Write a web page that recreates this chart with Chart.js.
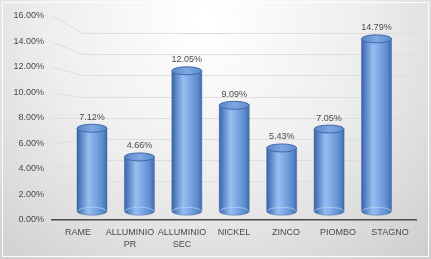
<!DOCTYPE html>
<html>
<head>
<meta charset="utf-8">
<script src="https://cdn.jsdelivr.net/npm/chart.js@4"></script>
<style>
  html, body { margin: 0; padding: 0; background: #ffffff; }
  #wrap { width: 431px; height: 259px; position: relative; }
  canvas { display: block; }
</style>
</head>
<body>
<div id="wrap"><canvas id="c" width="431" height="259"></canvas></div>
<script>
const categories = [['RAME'], ['ALLUMINIO', 'PR'], ['ALLUMINIO', 'SEC'], ['NICKEL'], ['ZINCO'], ['PIOMBO'], ['STAGNO']];
const values = [7.12, 4.66, 12.05, 9.09, 5.43, 7.05, 14.79];
const yTickValues = [0, 2, 4, 6, 8, 10, 12, 14, 16];

const FONT = "'Liberation Sans', Arial, sans-serif";
const TEXT = '#4a4a4a';

const bgPlugin = {
  id: 'bg',
  beforeDraw(chart) {
    const { ctx, width, height } = chart;
    ctx.save();
    const g = ctx.createRadialGradient(205, 20, 10, 205, 20, 340);
    g.addColorStop(0, '#ffffff');
    g.addColorStop(0.45, '#eeeeee');
    g.addColorStop(1, '#cbcbcb');
    ctx.fillStyle = g;
    ctx.fillRect(0, 0, width, height);
    ctx.strokeStyle = 'rgba(255,255,255,0.9)';
    ctx.lineWidth = 1;
    ctx.strokeRect(2.5, 2.5, width - 5, height - 5);
    ctx.restore();
  }
};

const wallGridPlugin = {
  id: 'wallGrid',
  beforeDatasetsDraw(chart) {
    const { ctx, chartArea } = chart;
    const front = chart.scales.y;
    const back = chart.scales.yg;
    const x0 = chartArea.left;
    const x1 = chartArea.left + 31;
    const x2 = chartArea.right + 2;
    ctx.save();
    ctx.strokeStyle = '#dedede';
    ctx.lineWidth = 1;
    yTickValues.forEach(v => {
      if (v === 0) return;
      const yf = Math.round(front.getPixelForValue(v)) + 0.5;
      const yb = Math.round(back.getPixelForValue(v)) + 0.5;
      ctx.beginPath();
      ctx.moveTo(x0 + 1, yf);
      ctx.lineTo(x1, yb);
      ctx.lineTo(x2, yb);
      ctx.stroke();
    });
    ctx.restore();
  }
};

const cylinderPlugin = {
  id: 'cylinders',
  afterDatasetsDraw(chart) {
    const { ctx } = chart;
    const meta = chart.getDatasetMeta(0);
    const ds = chart.data.datasets[0];
    ctx.save();
    meta.data.forEach((el, i) => {
      const p = el.getProps(['x', 'y', 'base', 'width'], true);
      const x = p.x, top = p.y, base = p.base, rx = p.width / 2, ry = 4;
      const g = ctx.createLinearGradient(x - rx, 0, x + rx, 0);
      g.addColorStop(0, '#3a63a3');
      g.addColorStop(0.12, '#5482c5');
      g.addColorStop(0.38, '#97bef0');
      g.addColorStop(0.55, '#82ade7');
      g.addColorStop(0.85, '#5c8bcf');
      g.addColorStop(1, '#436caa');
      ctx.beginPath();
      ctx.moveTo(x - rx, top);
      ctx.lineTo(x - rx, base);
      ctx.ellipse(x, base, rx, ry, 0, Math.PI, 0, true);
      ctx.lineTo(x + rx, top);
      ctx.closePath();
      ctx.fillStyle = g;
      ctx.fill();
      ctx.strokeStyle = 'rgba(55,90,150,0.5)';
      ctx.lineWidth = 0.8;
      ctx.stroke();
      ctx.beginPath();
      ctx.ellipse(x, base, rx - 0.5, ry, 0, Math.PI, 2 * Math.PI);
      ctx.strokeStyle = 'rgba(180,208,245,0.75)';
      ctx.lineWidth = 1;
      ctx.stroke();
      const tg = ctx.createLinearGradient(x - rx, 0, x + rx, 0);
      tg.addColorStop(0, '#5886c8');
      tg.addColorStop(0.5, '#7ea8e2');
      tg.addColorStop(1, '#5d8bcd');
      ctx.beginPath();
      ctx.ellipse(x, top, rx, ry, 0, 0, 2 * Math.PI);
      ctx.fillStyle = tg;
      ctx.fill();
      ctx.strokeStyle = '#4169a8';
      ctx.lineWidth = 1;
      ctx.stroke();
      ctx.fillStyle = TEXT;
      ctx.font = '9px ' + FONT;
      ctx.textAlign = 'center';
      ctx.textBaseline = 'middle';
      ctx.fillText(ds.data[i].y.toFixed(2) + '%', x, top - ry - 7);
    });
    ctx.restore();
  }
};

new Chart(document.getElementById('c'), {
  type: 'bar',
  data: {
    labels: categories,
    datasets: [{
      data: values.map((v, i) => ({ x: i, y: v })),
      xAxisID: 'xb',
      yAxisID: 'yb',
      backgroundColor: 'rgba(0,0,0,0)',
      borderWidth: 0,
      barThickness: 30
    }]
  },
  options: {
    responsive: false,
    animation: false,
    events: [],
    layout: { padding: { left: 0, right: 15, top: 16, bottom: 0 } },
    plugins: { legend: { display: false }, tooltip: { enabled: false } },
    scales: {
      x: {
        type: 'category',
        axis: 'x',
        position: 'bottom',
        offset: true,
        grid: { display: false, drawTicks: false },
        border: { display: true, color: '#4a4a4a', width: 1.5 },
        ticks: { color: TEXT, font: { family: FONT, size: 9, lineHeight: 1.35 }, padding: 6, maxRotation: 0, autoSkip: false },
        afterFit(s) { s.height = 39; }
      },
      xb: {
        type: 'linear',
        axis: 'x',
        display: false,
        offset: false,
        min: -0.8435,
        max: 6.833
      },
      y: {
        type: 'linear',
        axis: 'y',
        position: 'left',
        min: 0,
        max: 16,
        grid: { display: false, drawTicks: false },
        border: { display: false },
        afterBuildTicks(s) { s.ticks = yTickValues.map(v => ({ value: v })); },
        ticks: {
          color: TEXT,
          font: { family: FONT, size: 9 },
          padding: 8,
          callback: v => Number(v).toFixed(2) + '%'
        },
        afterFit(s) { s.width = 52; }
      },
      yb: {
        type: 'linear',
        axis: 'y',
        display: false,
        min: -0.75,
        max: 16.75
      },
      yg: {
        type: 'linear',
        axis: 'y',
        display: false,
        min: -1.65,
        max: 17.6
      }
    }
  },
  plugins: [bgPlugin, wallGridPlugin, cylinderPlugin]
});
</script>
</body>
</html>
